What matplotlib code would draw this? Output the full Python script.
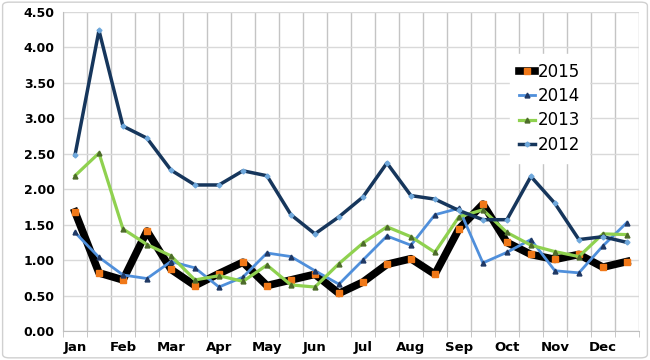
import matplotlib
matplotlib.use("Agg")
import matplotlib.pyplot as plt
from matplotlib.patches import FancyBboxPatch
import numpy as np

months = ["Jan", "Feb", "Mar", "Apr", "May", "Jun", "Jul", "Aug", "Sep", "Oct", "Nov", "Dec"]

s2015 = [1.68, 0.82, 0.72, 1.41, 0.87, 0.64, 0.81, 0.97, 0.64, 0.72, 0.80, 0.53,
         0.69, 0.94, 1.02, 0.80, 1.44, 1.79, 1.25, 1.08, 1.01, 1.08, 0.90, 0.98]
s2014 = [1.39, 1.04, 0.79, 0.74, 0.98, 0.89, 0.62, 0.76, 1.10, 1.05, 0.85, 0.66,
         1.00, 1.34, 1.21, 1.64, 1.73, 0.96, 1.11, 1.29, 0.85, 0.82, 1.20, 1.53]
s2013 = [2.19, 2.51, 1.44, 1.22, 1.06, 0.72, 0.78, 0.70, 0.93, 0.65, 0.62, 0.95,
         1.24, 1.47, 1.33, 1.11, 1.61, 1.71, 1.39, 1.21, 1.12, 1.05, 1.37, 1.36]
s2012 = [2.48, 4.24, 2.89, 2.72, 2.27, 2.06, 2.06, 2.26, 2.19, 1.64, 1.37, 1.61,
         1.89, 2.37, 1.91, 1.86, 1.70, 1.57, 1.57, 2.18, 1.80, 1.29, 1.33, 1.25]

fig = plt.figure(figsize=(6.5, 3.6), dpi=100)
fig.patch.set_facecolor("white")
border = FancyBboxPatch((0.004, 0.006), 0.992, 0.988, boxstyle="round,pad=0,rounding_size=0.01",
                        transform=fig.transFigure, fill=False, edgecolor="#d0d0d0",
                        linewidth=1.0, zorder=10)
fig.patches.append(border)

ax = fig.add_axes([0.0969, 0.0806, 0.886, 0.886])
ax.set_facecolor("none")
x = np.arange(len(s2015))

ax.plot(x, s2015, color="black", lw=5.5, marker="s", markersize=4.5,
        markerfacecolor="#F07818", markeredgecolor="#F07818", label="2015", zorder=3,
        solid_joinstyle="round")
ax.plot(x, s2014, color="#4F8FDB", lw=2.0, marker="^", markersize=3.5,
        markerfacecolor="#1F3864", markeredgecolor="#1F3864", label="2014", zorder=4)
ax.plot(x, s2013, color="#8FD14F", lw=2.3, marker="^", markersize=3.5,
        markerfacecolor="#4D6B2A", markeredgecolor="#4D6B2A", label="2013", zorder=5)
ax.plot(x, s2012, color="#16365C", lw=2.5, marker="D", markersize=2.5,
        markerfacecolor="#6FA8DC", markeredgecolor="#6FA8DC", label="2012", zorder=6)

ax.set_xlim(-0.5, len(x) - 0.5)
ax.set_ylim(0, 4.5)
ax.set_yticks(np.arange(0, 4.51, 0.5))
ax.set_yticklabels([f"{v:.2f}" for v in np.arange(0, 4.51, 0.5)],
                   fontsize=9, fontweight="bold")
ax.set_xticks(np.arange(0, len(x), 2))
ax.set_xticklabels(months, fontsize=9.5, fontweight="bold")
ax.set_xticks(np.arange(-0.5, len(x), 1), minor=True)
ax.tick_params(axis="x", which="major", length=0, pad=7)
ax.tick_params(axis="x", which="minor", length=4, color="#bfbfbf")
ax.tick_params(axis="y", length=0, pad=6)

ax.grid(axis="y", color="#d9d9d9", lw=1.0)
ax.grid(axis="x", which="minor", color="#c4c4c4", lw=1.0)
ax.set_axisbelow(True)
for side in ["top", "right"]:
    ax.spines[side].set_visible(False)
ax.spines["left"].set_color("#bfbfbf")
ax.spines["bottom"].set_color("#bfbfbf")

leg = ax.legend(loc="upper left", bbox_to_anchor=(0.785, 0.851), bbox_transform=fig.transFigure,
                fontsize=12, frameon=True, fancybox=False, handlelength=0.95,
                labelspacing=0.38, borderpad=0.55, borderaxespad=0, handletextpad=0.15)
leg.get_frame().set_edgecolor("white")
leg.get_frame().set_facecolor("white")
leg.get_frame().set_alpha(1)

fig.savefig("out.png", dpi=100)
